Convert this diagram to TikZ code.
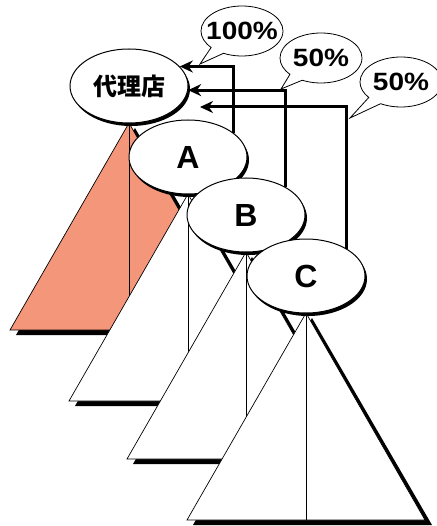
\documentclass[tikz,border=0pt]{standalone}
\usepackage{fontspec}
\setmainfont{Liberation Sans}
\newfontfamily\cjk{Noto Sans CJK JP}
\usepackage{tikz}
\usetikzlibrary{arrows.meta,shapes.geometric,shapes.callouts,shadows}
\definecolor{salmon}{RGB}{244,150,122}

\newcommand{\wide}[1]{\scalebox{1.12}[1]{#1}}

\tikzset{
  unit/.style={ellipse, draw=black, line width=1pt, fill=white,
    minimum width=118pt, minimum height=74pt, inner sep=0pt,
    font=\bfseries\fontsize{32}{32}\selectfont,
    drop shadow={shadow xshift=2pt, shadow yshift=-3pt, fill=black, opacity=1}},
  share/.style={ellipse callout, draw=black, line width=0.8pt, fill=white,
    minimum width=82pt, minimum height=50pt, inner xsep=-8pt, inner ysep=0pt,
    callout pointer arc=22, font=\bfseries\fontsize{25}{25}\selectfont},
  link/.style={line width=3pt, -{Stealth[length=13pt,width=12pt]}},
  tree/.style={draw=black, line width=0.7pt}
}

\begin{document}
\begin{tikzpicture}
  \begin{scope}[x=1pt, y=-1pt]
    \useasboundingbox (0,0) rectangle (436,526);

    % Trees, back to front
    \foreach \name/\lbl/\cx/\cy/\col in {agency/{\cjk\fontsize{24}{24}\selectfont 代理店}/129/86/salmon,
        A/A/188/157/white, B/B/246/215/white, C/C/306/276/white} {
      \fill[black] (\cx+6,\cy+42) -- (\cx-113,\cy+249) -- (\cx+126,\cy+249) -- cycle;
      \filldraw[tree, fill=\col] (\cx,\cy+37) -- (\cx-119,\cy+244) -- (\cx+119,\cy+244) -- cycle;
      \draw[tree] (\cx,\cy+37) -- (\cx,\cy+244);
      \node[unit] (\name) at (\cx,\cy) {\lbl};
    }

    % Payments back to the agency
    \coordinate (tip3) at (200,107);
    \draw[link] (A.28) |- (agency.21);
    \draw[link] (B.35) |- (agency.-4);
    \draw[link] (C.34) |- (tip3);

    % Shares
    \coordinate (tail1) at (200,64);
    \coordinate (tail2) at (281,89);
    \coordinate (tail3) at (350,118);
    \node[share, callout absolute pointer={(tail1)}] (s1) at (242,31) {\wide{100\%}};
    \node[share, callout absolute pointer={(tail2)}] (s2) at (321,58) {\wide{50\%}};
    \node[share, callout absolute pointer={(tail3)}] (s3) at (401,82) {\wide{50\%}};
  \end{scope}
\end{tikzpicture}
\end{document}
